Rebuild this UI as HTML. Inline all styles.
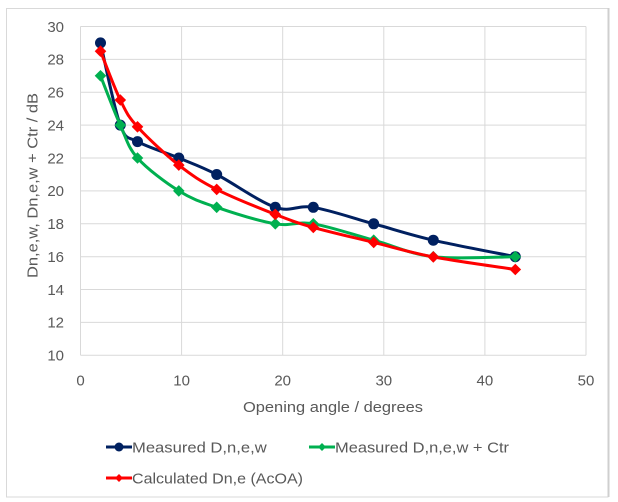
<!DOCTYPE html>
<html>
<head>
<meta charset="utf-8">
<style>
  html,body{margin:0;padding:0;background:#fff;}
  svg{display:block;}
  text{font-family:"Liberation Sans",sans-serif;fill:#595959;}
</style>
</head>
<body>
<svg width="618" height="502" viewBox="0 0 618 502" xmlns="http://www.w3.org/2000/svg">
  <rect x="0" y="0" width="618" height="502" fill="#fff"/>
  <!-- chart border -->
  <rect x="6.5" y="8.5" width="601.5" height="488.5" fill="none" stroke="#d9d9d9" stroke-width="1"/>
  <line x1="608.5" y1="8" x2="608.5" y2="497" stroke="#cfcfcf" stroke-width="2"/>

  <!-- gridlines -->
  <g stroke="#d9d9d9" stroke-width="1" fill="none">
    <line x1="80.5" y1="26.5" x2="586" y2="26.5"/>
    <line x1="80.5" y1="59.4" x2="586" y2="59.4"/>
    <line x1="80.5" y1="92.3" x2="586" y2="92.3"/>
    <line x1="80.5" y1="125.1" x2="586" y2="125.1"/>
    <line x1="80.5" y1="158" x2="586" y2="158"/>
    <line x1="80.5" y1="190.9" x2="586" y2="190.9"/>
    <line x1="80.5" y1="223.8" x2="586" y2="223.8"/>
    <line x1="80.5" y1="256.7" x2="586" y2="256.7"/>
    <line x1="80.5" y1="289.5" x2="586" y2="289.5"/>
    <line x1="80.5" y1="322.4" x2="586" y2="322.4"/>
    <line x1="80.5" y1="355.3" x2="586" y2="355.3"/>
    <line x1="80.5" y1="26.5" x2="80.5" y2="355.3"/>
    <line x1="181.6" y1="26.5" x2="181.6" y2="355.3"/>
    <line x1="282.7" y1="26.5" x2="282.7" y2="355.3"/>
    <line x1="383.8" y1="26.5" x2="383.8" y2="355.3"/>
    <line x1="484.9" y1="26.5" x2="484.9" y2="355.3"/>
    <line x1="586" y1="26.5" x2="586" y2="355.3"/>
  </g>

  <!-- y tick labels -->
  <g font-size="15" text-anchor="end">
    <text x="64" y="31.8">30</text>
    <text x="64" y="64.7">28</text>
    <text x="64" y="97.6">26</text>
    <text x="64" y="130.4">24</text>
    <text x="64" y="163.3">22</text>
    <text x="64" y="196.2">20</text>
    <text x="64" y="229.1">18</text>
    <text x="64" y="262">16</text>
    <text x="64" y="294.8">14</text>
    <text x="64" y="327.7">12</text>
    <text x="64" y="360.6">10</text>
  </g>
  <!-- x tick labels -->
  <g font-size="15" text-anchor="middle">
    <text x="80.5" y="385.5">0</text>
    <text x="181.6" y="385.5">10</text>
    <text x="282.7" y="385.5">20</text>
    <text x="383.8" y="385.5">30</text>
    <text x="484.9" y="385.5">40</text>
    <text x="586" y="385.5">50</text>
  </g>

  <!-- axis titles -->
  <text x="243" y="412" font-size="15" textLength="180" lengthAdjust="spacingAndGlyphs">Opening angle / degrees</text>
  <text transform="translate(37.5,278) rotate(-90)" x="0" y="0" font-size="15" textLength="185" lengthAdjust="spacingAndGlyphs">Dn,e,w, Dn,e,w + Ctr / dB</text>

  <!-- series: blue -->
  <path fill="none" stroke="#002060" stroke-width="3" stroke-linejoin="round" stroke-linecap="round"
    d="M100.5,42.9 C103.8,56.6 114.1,108.7 120.3,125.1 C126.5,141.6 127.8,136.1 137.5,141.6 C147.25,147.08 165.6,152.52 178.8,158 C192,163.48 200.62,166.28 216.7,174.5 C232.78,182.72 259.2,201.83 275.3,207.3 C291.4,212.77 296.9,204.55 313.3,207.3 C329.7,210.05 353.7,218.32 373.7,223.8 C393.7,229.28 409.7,234.72 433.3,240.2 C456.9,245.68 501.63,253.95 515.3,256.7"/>
  <g fill="#002060">
    <circle cx="100.5" cy="42.9" r="5.5"/>
    <circle cx="120.3" cy="125.1" r="5.5"/>
    <circle cx="137.5" cy="141.6" r="5.5"/>
    <circle cx="178.8" cy="158" r="5.5"/>
    <circle cx="216.7" cy="174.5" r="5.5"/>
    <circle cx="275.3" cy="207.3" r="5.5"/>
    <circle cx="313.3" cy="207.3" r="5.5"/>
    <circle cx="373.7" cy="223.8" r="5.5"/>
    <circle cx="433.3" cy="240.2" r="5.5"/>
    <circle cx="515.3" cy="256.7" r="5.5"/>
  </g>

  <!-- series: green -->
  <path fill="none" stroke="#00b050" stroke-width="3" stroke-linejoin="round" stroke-linecap="round"
    d="M100.5,75.8 C103.8,84.02 114.13,111.4 120.3,125.1 C126.47,138.8 127.75,147.03 137.5,158 C147.25,168.97 165.6,182.68 178.8,190.9 C192,199.12 200.62,201.82 216.7,207.3 C232.78,212.78 259.2,221.05 275.3,223.8 C291.4,226.55 296.9,221.07 313.3,223.8 C329.7,226.53 353.7,234.72 373.7,240.2 C393.7,245.68 409.7,253.95 433.3,256.7 C456.9,259.45 501.63,256.7 515.3,256.7"/>
  <g fill="#00b050">
    <polygon points="100.5,70 106.3,75.8 100.5,81.6 94.7,75.8"/>
    <polygon points="120.3,119.3 126.1,125.1 120.3,130.9 114.5,125.1"/>
    <polygon points="137.5,152.2 143.3,158 137.5,163.8 131.7,158"/>
    <polygon points="178.8,185.1 184.6,190.9 178.8,196.7 173,190.9"/>
    <polygon points="216.7,201.5 222.5,207.3 216.7,213.1 210.9,207.3"/>
    <polygon points="275.3,218 281.1,223.8 275.3,229.6 269.5,223.8"/>
    <polygon points="313.3,218 319.1,223.8 313.3,229.6 307.5,223.8"/>
    <polygon points="373.7,234.4 379.5,240.2 373.7,246 367.9,240.2"/>
    <polygon points="433.3,250.9 439.1,256.7 433.3,262.5 427.5,256.7"/>
    <polygon points="515.3,250.9 521.1,256.7 515.3,262.5 509.5,256.7"/>
  </g>

  <!-- series: red -->
  <path fill="none" stroke="#ff0000" stroke-width="3" stroke-linejoin="round" stroke-linecap="round"
    d="M100.5,51.2 C103.8,59.33 114.13,87.4 120.3,100 C126.47,112.6 127.75,115.95 137.5,126.8 C147.25,137.65 165.6,154.67 178.8,165.1 C192,175.53 200.62,181.18 216.7,189.4 C232.78,197.62 259.2,208.07 275.3,214.4 C291.4,220.73 296.9,222.73 313.3,227.4 C329.7,232.07 353.7,237.48 373.7,242.4 C393.7,247.32 409.7,252.38 433.3,256.9 C456.9,261.42 501.63,267.4 515.3,269.5"/>
  <g fill="#ff0000">
    <polygon points="100.5,45.4 106.3,51.2 100.5,57 94.7,51.2"/>
    <polygon points="120.3,94.2 126.1,100 120.3,105.8 114.5,100"/>
    <polygon points="137.5,121 143.3,126.8 137.5,132.6 131.7,126.8"/>
    <polygon points="178.8,159.3 184.6,165.1 178.8,170.9 173,165.1"/>
    <polygon points="216.7,183.6 222.5,189.4 216.7,195.2 210.9,189.4"/>
    <polygon points="275.3,208.6 281.1,214.4 275.3,220.2 269.5,214.4"/>
    <polygon points="313.3,221.6 319.1,227.4 313.3,233.2 307.5,227.4"/>
    <polygon points="373.7,236.6 379.5,242.4 373.7,248.2 367.9,242.4"/>
    <polygon points="433.3,251.1 439.1,256.9 433.3,262.7 427.5,256.9"/>
    <polygon points="515.3,263.7 521.1,269.5 515.3,275.3 509.5,269.5"/>
  </g>

  <!-- legend -->
  <line x1="106" y1="447" x2="132" y2="447" stroke="#002060" stroke-width="3"/>
  <circle cx="119" cy="447" r="4.5" fill="#002060"/>
  <text x="132" y="452.5" font-size="15" textLength="134.7" lengthAdjust="spacingAndGlyphs">Measured D,n,e,w</text>

  <line x1="309" y1="447" x2="335" y2="447" stroke="#00b050" stroke-width="3"/>
  <polygon points="322,443 326,447 322,451 318,447" fill="#00b050"/>
  <text x="335" y="452.5" font-size="15" textLength="174" lengthAdjust="spacingAndGlyphs">Measured D,n,e,w + Ctr</text>

  <line x1="106" y1="478" x2="132" y2="478" stroke="#ff0000" stroke-width="3"/>
  <polygon points="119,474 123,478 119,482 115,478" fill="#ff0000"/>
  <text x="132" y="483.5" font-size="15" textLength="171" lengthAdjust="spacingAndGlyphs">Calculated Dn,e (AcOA)</text>
</svg>
</body>
</html>
